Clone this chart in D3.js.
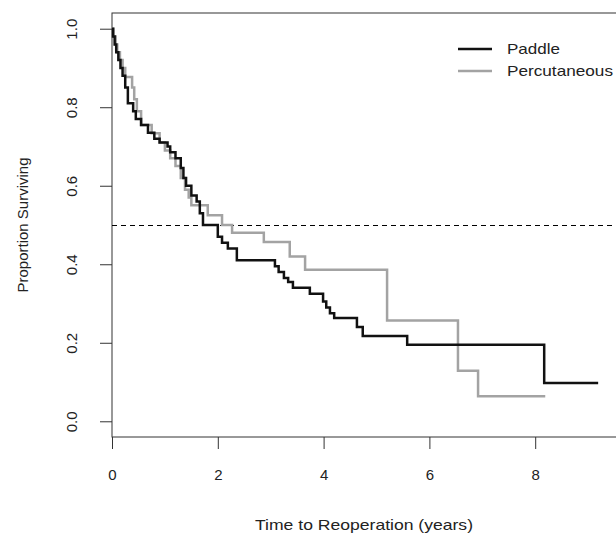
<!DOCTYPE html>
<html>
<head>
<meta charset="utf-8">
<script src="https://cdn.jsdelivr.net/npm/d3@7"></script>
<style>
  body { margin: 0; background: #fff; }
  text { font-family: "Liberation Sans", Arial, sans-serif; fill: #222; }
</style>
</head>
<body>
<script>
// Kaplan-Meier steps (time in years, proportion surviving)
var paddleTime = [0, 0.02, 0.05, 0.08, 0.12, 0.16, 0.2, 0.25, 0.3, 0.4, 0.45, 0.55, 0.68, 0.8, 0.9, 1.05, 1.1, 1.2, 1.3, 1.35, 1.4, 1.5, 1.6, 1.66, 1.72, 2.0, 2.08, 2.19, 2.36, 3.08, 3.15, 3.25, 3.33, 3.42, 3.74, 3.99, 4.05, 4.12, 4.2, 4.63, 4.74, 5.58, 8.17, 9.19];
var paddleSurv = [1.0, 0.98, 0.96, 0.94, 0.92, 0.9, 0.88, 0.85, 0.81, 0.79, 0.77, 0.755, 0.735, 0.72, 0.71, 0.7, 0.685, 0.67, 0.645, 0.62, 0.6, 0.575, 0.56, 0.53, 0.5, 0.47, 0.455, 0.44, 0.41, 0.395, 0.38, 0.365, 0.355, 0.34, 0.325, 0.305, 0.29, 0.275, 0.263, 0.24, 0.217, 0.195, 0.0975, 0.0975];

var percTime = [0, 0.03, 0.07, 0.1, 0.15, 0.2, 0.25, 0.38, 0.42, 0.47, 0.55, 0.75, 0.9, 1.0, 1.1, 1.2, 1.3, 1.38, 1.45, 1.5, 1.81, 2.08, 2.27, 2.87, 3.36, 3.65, 5.2, 6.54, 6.92, 8.19];
var percSurv = [1.0, 0.98, 0.96, 0.94, 0.92, 0.9, 0.877, 0.85, 0.82, 0.79, 0.755, 0.734, 0.71, 0.69, 0.67, 0.65, 0.62, 0.59, 0.57, 0.55, 0.525, 0.5, 0.48, 0.457, 0.42, 0.386, 0.257, 0.129, 0.064, 0.064];

var xTicks = [0, 2, 4, 6, 8];
var yTicks = [0, 0.2, 0.4, 0.6, 0.8, 1.0];
var seriesNames = ["Paddle", "Percutaneous"];
var seriesColors = ["#111111", "#a3a3a3"];

var width = 616, height = 542;
var margin = ({ top: 13, right: -25, bottom: 105, left: 112 });

var svg = d3.select("body").append("svg")
    .attr("width", width)
    .attr("height", height);

var x = d3.scaleLinear()
    .domain([0, 10])
    .range([margin.left, width - margin.right]);

var y = d3.scaleLinear()
    .domain([-0.04, 1.04])
    .range([height - margin.bottom, margin.top]);

// plot box (right side runs off the picture)
svg.append("rect")
    .attr("x", x(0))
    .attr("y", y(1.04))
    .attr("width", x(10) - x(0))
    .attr("height", y(-0.04) - y(1.04))
    .attr("fill", "none")
    .attr("stroke", "#333")
    .attr("stroke-width", 1);

var xAxis = g => g
    .attr("transform", `translate(0,${y(-0.04)})`)
    .call(d3.axisBottom(x).tickValues(xTicks).tickSize(12).tickPadding(20).tickFormat(d3.format("d")))
    .call(g => g.select(".domain").remove())
    .call(g => g.selectAll(".tick line").attr("stroke", "#333"))
    .call(g => g.selectAll(".tick text")
        .attr("font-size", 15)
        .attr("font-family", "Liberation Sans, Arial, sans-serif")
        .attr("fill", "#222"));

var yAxis = g => g
    .attr("transform", `translate(${x(0)},0)`)
    .call(d3.axisLeft(y).tickValues(yTicks).tickSize(12).tickFormat(d3.format(".1f")))
    .call(g => g.select(".domain").remove())
    .call(g => g.selectAll(".tick line").attr("stroke", "#333"))
    .call(g => g.selectAll(".tick text")
        .attr("font-size", 15)
        .attr("font-family", "Liberation Sans, Arial, sans-serif")
        .attr("fill", "#222")
        .attr("x", null)
        .attr("dy", null)
        .attr("text-anchor", "middle")
        .attr("transform", "translate(-35,0) rotate(-90)"));

svg.append("g").call(xAxis);
svg.append("g").call(yAxis);

// reference line at median
svg.append("line")
    .attr("x1", x(0))
    .attr("x2", width)
    .attr("y1", Math.round(y(0.5)) + 0.5)
    .attr("y2", Math.round(y(0.5)) + 0.5)
    .attr("stroke", "#000")
    .attr("stroke-width", 1.2)
    .attr("stroke-dasharray", "5,4");

var line = d3.line()
    .x(d => x(d[0]))
    .y(d => y(d[1]))
    .curve(d3.curveStepAfter);

var series = [
    d3.zip(paddleTime, paddleSurv),
    d3.zip(percTime, percSurv)
];

// grey first so black sits on top
[1, 0].forEach(function (i) {
    svg.append("path")
        .datum(series[i])
        .attr("fill", "none")
        .attr("stroke", seriesColors[i])
        .attr("stroke-width", 2.5)
        .attr("d", line);
});

// axis titles
svg.append("text")
    .attr("x", 364)
    .attr("y", 530)
    .attr("text-anchor", "middle")
    .attr("font-size", 15)
    .attr("textLength", 218)
    .attr("lengthAdjust", "spacingAndGlyphs")
    .text("Time to Reoperation (years)");

svg.append("text")
    .attr("transform", "translate(28,225) rotate(-90)")
    .attr("text-anchor", "middle")
    .attr("font-size", 15)
    .text("Proportion Surviving");

// legend
var legend = svg.append("g");
seriesNames.forEach(function (name, i) {
    var ly = 49 + i * 22;
    legend.append("line")
        .attr("x1", 458).attr("x2", 492)
        .attr("y1", ly).attr("y2", ly)
        .attr("stroke", seriesColors[i])
        .attr("stroke-width", 2.5);
    legend.append("text")
        .attr("x", 507)
        .attr("y", ly + 5)
        .attr("font-size", 15)
        .attr("textLength", i == 0 ? 53 : 106)
        .attr("lengthAdjust", "spacingAndGlyphs")
        .text(name);
});
</script>
</body>
</html>
